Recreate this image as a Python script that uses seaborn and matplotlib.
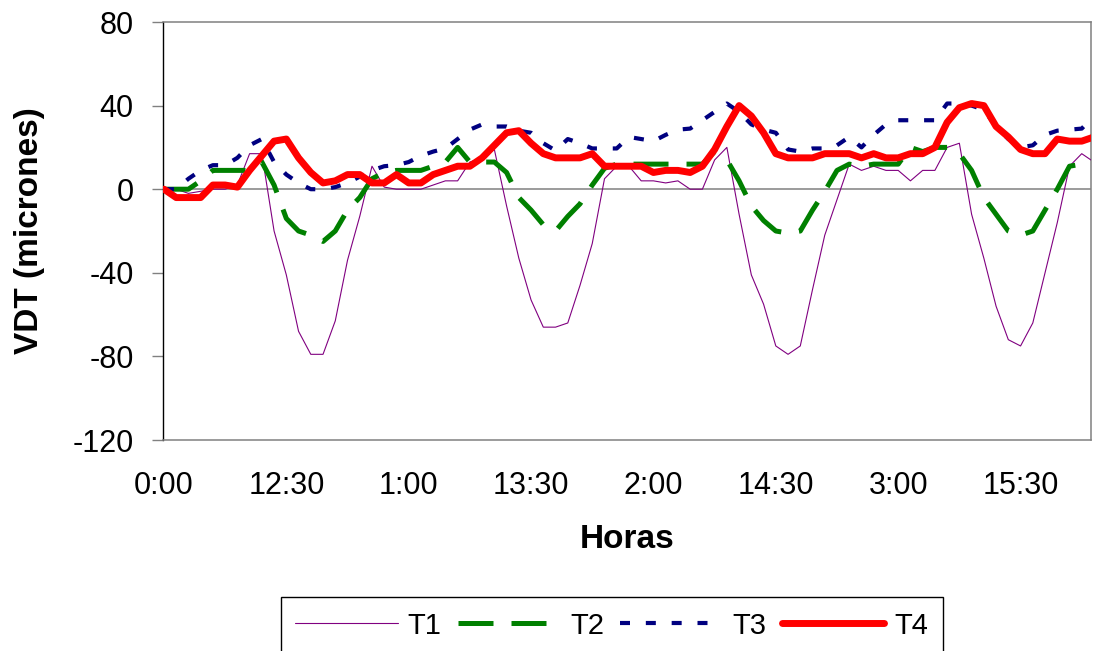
"""VDT (micrones) of the four test points T1..T4 over the measurement time."""

import numpy as np
import pandas as pd
import matplotlib
matplotlib.use('Agg')
import matplotlib.pyplot as plt
import seaborn as sns

# sample index (10 samples between labelled ticks)
muestra = np.arange(77)
tick_pos = [0, 10, 20, 30, 40, 50, 60, 70]
tick_labels = ['0:00', '12:30', '1:00', '13:30', '2:00', '14:30', '3:00', '15:30']

t1 = [0, 0, -2, -1, 0, 0, 2, 17, 17, -20,
      -41, -68, -79, -79, -63, -34, -13, 11, 1, 0,
      0, 0, 2, 4, 4, 13, 15, 19, -8, -33,
      -53, -66, -66, -64, -46, -26, 5, 11, 11, 4,
      4, 3, 4, 0, 0, 14, 20, -12, -41, -55,
      -75, -79, -75, -48, -22, -5, 12, 9, 11, 9,
      9, 4, 9, 9, 20, 22, -12, -33, -56, -72,
      -75, -64, -40, -16, 11, 17, 13]

t2 = [0, 0, 0, 4, 9, 9, 9, 9, 13, 2,
      -14, -20, -22, -25, -20, -10, -4, 5, 8, 9,
      9, 9, 11, 13, 20, 13, 13, 13, 8, -4,
      -10, -17, -20, -13, -7, 2, 10, 12, 12, 12,
      12, 12, 12, 12, 12, 18, 14, 4, -8, -15,
      -20, -21, -20, -10, -1, 9, 12, 11, 12, 12,
      12, 20, 18, 20, 20, 17, 9, -4, -12, -20,
      -22, -20, -10, 0, 11, 12, 12]

t3 = [0, 0, 5, 9, 11.5, 11.5, 15, 21, 24, 13,
      7, 3, 0, 0, 1, 3, 6, 9, 11, 11.5,
      13, 16, 18, 19.5, 24, 28.5, 31, 30, 30, 28,
      27, 22, 18.5, 24, 22, 19.5, 19.5, 19.5, 25, 24,
      23, 26, 28.5, 29, 33, 37, 41, 37, 31, 28.5,
      27, 19, 18, 19.5, 19.5, 21, 25, 20, 26, 31,
      33, 33, 33, 33, 41, 41, 40, 38, 30, 24,
      20, 21, 26, 28, 28.5, 29, 35]

t4 = [0, -4, -4, -4, 2, 2, 1, 9, 16, 23,
      24, 15, 8, 3, 4, 7, 7, 3, 3, 7,
      3, 3, 7, 9, 11, 11, 15, 21, 27, 28,
      22, 17, 15, 15, 15, 17, 11, 11, 11, 11,
      8, 9, 9, 8, 11, 19, 30, 40, 35, 27,
      17, 15, 15, 15, 17, 17, 17, 15, 17, 15,
      15, 17, 17, 20, 32, 39, 41, 40, 30, 25,
      19, 17, 17, 24, 23, 23, 25]

sns.set_style('white')
plt.rcParams['font.family'] = ['Liberation Sans', 'DejaVu Sans']
plt.rcParams['axes.unicode_minus'] = False
plt.rcParams['text.color'] = 'black'
plt.rcParams['axes.labelcolor'] = 'black'

fig = plt.figure(figsize=(10.93, 6.51), dpi=100)
ax = fig.add_axes([0.1491, 0.3241, 0.849, 0.6421])

# series: (name, values, colour, width, dash pattern)
series = [
    ('T1', t1, '#800080', 0.8, None),
    ('T2', t2, '#008000', 3.6, (0, (7, 3.6))),
    ('T3', t3, '#000080', 3.0, (0, (2.4, 3.8))),
    ('T4', t4, '#FF0000', 5.0, None),
]

ax.axhline(0, color='#808080', lw=1.1, zorder=1)

for name, vals, col, lw, dash in series:
    kw = dict(solid_capstyle='round') if dash is None else dict(linestyle=dash, dash_capstyle='butt')
    sns.lineplot(x=muestra, y=vals, ax=ax, color=col, lw=lw, label=name,
                 errorbar=None, sort=False, zorder=3, **kw)

ax.set_xlim(-0.08, 75.75)
ax.set_ylim(-120, 80)
ax.set_yticks([80, 40, 0, -40, -80, -120])
ax.set_xticks(tick_pos)
ax.set_xticklabels(tick_labels)
ax.tick_params(axis='y', direction='out', length=8, width=1, color='#808080',
               labelcolor='black', pad=13, labelsize=22, left=True)
ax.tick_params(axis='x', length=0, pad=22, labelsize=22, labelcolor='black')

for side in ['top', 'bottom', 'right']:
    ax.spines[side].set_color('#808080')
    ax.spines[side].set_linewidth(1.1)
ax.spines['left'].set_color('black')
ax.spines['left'].set_linewidth(1.0)

ax.set_xlabel('Horas', fontsize=24, fontweight='bold')
ax.set_ylabel('VDT (micrones)', fontsize=24, fontweight='bold')
ax.xaxis.set_label_coords(0.5, -0.2)
ax.yaxis.set_label_coords(-0.127, 0.5)

ax.get_legend().remove()
handles, labels = ax.get_legend_handles_labels()
leg = fig.legend(handles, labels, loc='upper left', bbox_to_anchor=(0.257, 0.083),
                 ncol=4, fontsize=21, frameon=True, fancybox=False, framealpha=1,
                 edgecolor='black', handlelength=3.5, handletextpad=0.35,
                 columnspacing=0.55, borderpad=0.5, borderaxespad=0)
leg.get_frame().set_linewidth(1.0)

plt.savefig('out.png', dpi=100)
